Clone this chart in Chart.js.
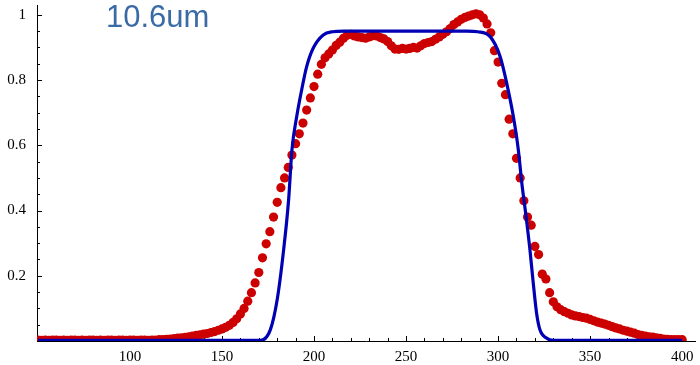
<!DOCTYPE html>
<html>
<head>
<meta charset="utf-8">
<script src="https://cdn.jsdelivr.net/npm/chart.js@4.4.1/dist/chart.umd.min.js"></script>
<style>
  html, body { margin: 0; padding: 0; background: #fff; }
  #wrap { width: 700px; height: 365px; }
</style>
</head>
<body>
<div id="wrap"><canvas id="chart"></canvas></div>
<script>
// measured spectrum (red dots)
const redX = [
  50, 52, 54, 56, 58, 60, 62, 64, 66, 68, 70, 72, 74, 76, 78, 80, 82, 84, 86, 88,
  90, 92, 94, 96, 98, 100, 102, 104, 106, 108, 110, 112, 114, 116, 118, 120, 122, 124, 126, 128,
  130, 132, 134, 136, 138, 140, 142, 144, 146, 148, 150, 152, 154, 156, 158, 160, 162, 164, 166, 168,
  170, 172, 174, 176, 178, 180, 182, 184, 186, 188, 190, 192, 194, 196, 198, 200, 202, 204, 206, 208,
  210, 212, 214, 216, 218, 220, 222, 224, 226, 228, 230, 232, 234, 236, 238, 240, 242, 244, 246, 248,
  250, 252, 254, 256, 258, 260, 262, 264, 266, 268, 270, 272, 274, 276, 278, 280, 282, 284, 286, 288,
  290, 292, 294, 296, 298, 300, 302, 304, 306, 308, 310, 312, 314, 316, 318, 320, 322, 324, 326, 328,
  330, 332, 334, 336, 338, 340, 342, 344, 346, 348, 350, 352, 354, 356, 358, 360, 362, 364, 366, 368,
  370, 372, 374, 376, 378, 380, 382, 384, 386, 388, 390, 392, 394, 396, 398, 400
];
const redY = [
  0.003, 0.002, 0.003, 0.002, 0.003, 0.003, 0.002, 0.003, 0.002, 0.003, 0.003, 0.002, 0.003, 0.002, 0.003, 0.003, 0.002, 0.003, 0.002, 0.003,
  0.003, 0.002, 0.003, 0.003, 0.002, 0.003, 0.003, 0.002, 0.003, 0.003, 0.002, 0.003, 0.003, 0.004, 0.004, 0.005, 0.006, 0.007, 0.009, 0.010,
  0.011, 0.013, 0.015, 0.017, 0.019, 0.021, 0.023, 0.026, 0.029, 0.033, 0.037, 0.042, 0.048, 0.057, 0.068, 0.083, 0.100, 0.122, 0.148, 0.178,
  0.210, 0.255, 0.298, 0.335, 0.380, 0.425, 0.470, 0.500, 0.532, 0.570, 0.605, 0.635, 0.668, 0.708, 0.745, 0.780, 0.818, 0.848, 0.868, 0.880,
  0.892, 0.906, 0.916, 0.928, 0.937, 0.940, 0.935, 0.932, 0.930, 0.928, 0.932, 0.936, 0.935, 0.930, 0.926, 0.918, 0.905, 0.895, 0.894, 0.897,
  0.895, 0.897, 0.900, 0.898, 0.905, 0.912, 0.915, 0.918, 0.925, 0.932, 0.940, 0.948, 0.958, 0.970, 0.978, 0.986, 0.992, 0.996, 1.000, 1.003,
  1.000, 0.990, 0.972, 0.945, 0.890, 0.855, 0.790, 0.755, 0.680, 0.635, 0.560, 0.500, 0.430, 0.380, 0.355, 0.290, 0.265, 0.205, 0.190, 0.148,
  0.120, 0.105, 0.096, 0.090, 0.085, 0.080, 0.077, 0.075, 0.072, 0.070, 0.066, 0.062, 0.058, 0.055, 0.052, 0.048, 0.044, 0.040, 0.037, 0.033,
  0.030, 0.027, 0.024, 0.020, 0.017, 0.015, 0.013, 0.012, 0.010, 0.008, 0.006, 0.005, 0.004, 0.004, 0.004, 0.004
];

// model curve (blue line)
const blueX = [50, 100, 150, 171, 176.3, 180, 183.5, 186.2, 188, 190.6, 193.3, 196, 199.6, 205, 210, 216.5,
  250, 283, 289, 295.7, 301.1, 304.7, 308.3, 311, 312.9, 315.2, 317.3, 319.1, 320.9, 322.7, 326.3, 330, 360, 400];
const blueY = [0.002, 0.002, 0.002, 0.002, 0.035, 0.127, 0.28, 0.433, 0.586, 0.688, 0.77, 0.841, 0.898, 0.938, 0.948, 0.95,
  0.95, 0.95, 0.948, 0.933, 0.872, 0.79, 0.688, 0.586, 0.484, 0.382, 0.28, 0.178, 0.086, 0.035, 0.009, 0.002, 0.002, 0.002];

const xTicks = [100, 150, 200, 250, 300, 350, 400];
const yTicks = [0.2, 0.4, 0.6, 0.8, 1];
const label = '10.6um';

const redPts = redX.map((x, i) => ({ x: x, y: redY[i] }));
const bluePts = blueX.map((x, i) => ({ x: x, y: blueY[i] }));

// Mathematica-style inward ticks + the label in the corner
const axisDeco = {
  id: 'axisDeco',
  beforeDatasetsDraw(chart) {
    const { ctx, scales: { x, y } } = chart;
    ctx.save();
    ctx.strokeStyle = '#000';
    ctx.lineWidth = 1;
    ctx.beginPath();
    for (let v = 60; v <= 400; v += 10) {
      const px = Math.round(x.getPixelForValue(v)) + 0.5;
      const len = v % 50 === 0 ? 5 : 3;
      ctx.moveTo(px, y.bottom);
      ctx.lineTo(px, y.bottom - len);
    }
    for (let k = 1; k <= 20; k++) {
      const py = Math.round(y.getPixelForValue(k * 0.05)) + 0.5;
      const len = k % 4 === 0 ? 5 : 3;
      ctx.moveTo(x.left, py);
      ctx.lineTo(x.left + len, py);
    }
    ctx.stroke();
    ctx.restore();
  },
  afterDraw(chart) {
    const ctx = chart.ctx;
    ctx.save();
    ctx.fillStyle = '#3a6ba6';
    ctx.font = '31px "Liberation Sans", Arial, sans-serif';
    ctx.textAlign = 'left';
    ctx.textBaseline = 'alphabetic';
    ctx.fillText(label, 106, 27);
    ctx.restore();
  }
};

const tickFont = { family: '"Liberation Serif", "Times New Roman", serif', size: 15 };

new Chart(document.getElementById('chart').getContext('2d'), {
  type: 'scatter',
  data: {
    datasets: [
      {
        label: 'measured',
        data: redPts,
        backgroundColor: '#cc0000',
        borderColor: '#cc0000',
        borderWidth: 0,
        pointRadius: 4.6,
        order: 2
      },
      {
        type: 'line',
        label: 'model',
        data: bluePts,
        borderColor: '#0000b4',
        borderWidth: 3.2,
        pointRadius: 0,
        fill: false,
        cubicInterpolationMode: 'monotone',
        order: 1
      }
    ]
  },
  options: {
    responsive: true,
    maintainAspectRatio: false,
    animation: false,
    layout: { padding: { top: 5, right: 0, left: 0, bottom: 0 } },
    plugins: {
      legend: { display: false },
      tooltip: { enabled: false }
    },
    scales: {
      x: {
        type: 'linear',
        min: 49.5,
        max: 407.2,
        grid: { display: false, drawTicks: false },
        border: { display: true, color: '#000', width: 1 },
        afterBuildTicks: s => { s.ticks = xTicks.map(v => ({ value: v })); },
        afterFit: s => { s.height = 24; s.paddingLeft = 0; s.paddingRight = 0; },
        ticks: {
          color: '#000',
          font: tickFont,
          padding: 7,
          maxRotation: 0,
          autoSkip: false
        }
      },
      y: {
        type: 'linear',
        min: 0,
        max: 1.03,
        grid: { display: false, drawTicks: false },
        border: { display: true, color: '#000', width: 1 },
        afterBuildTicks: s => { s.ticks = yTicks.map(v => ({ value: v })); },
        afterFit: s => { s.width = 37; s.paddingTop = 0; s.paddingBottom = 0; },
        ticks: {
          color: '#000',
          font: tickFont,
          padding: 11,
          callback: v => (v === 1 ? '1' : v.toFixed(1))
        }
      }
    }
  },
  plugins: [axisDeco]
});
</script>
</body>
</html>
